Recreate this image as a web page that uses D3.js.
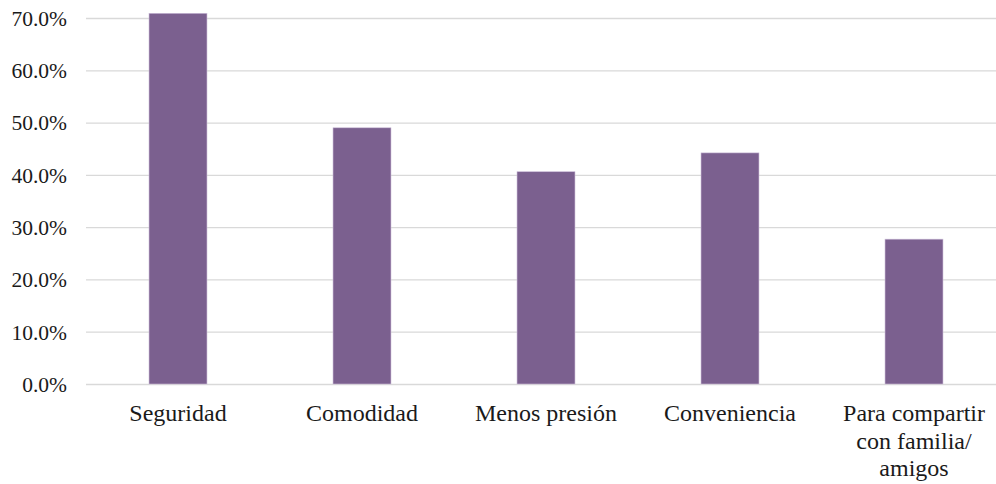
<!DOCTYPE html>
<html>
<head>
<meta charset="utf-8">
<script src="https://cdn.jsdelivr.net/npm/d3@7"></script>
<style>
  html, body { margin: 0; padding: 0; background: #ffffff; }
  svg { display: block; }
</style>
</head>
<body>
<svg id="chart" width="996" height="484"></svg>
<script>
const categories = ["Seguridad", "Comodidad", "Menos presión", "Conveniencia", "Para compartir\ncon familia/\namigos"];
const values = [0.709, 0.490, 0.406, 0.442, 0.277];
const yTicks = [0, 0.1, 0.2, 0.3, 0.4, 0.5, 0.6, 0.7];

const svg = d3.select("#chart");
const plotLeft = 86, plotRight = 1006, plotTop = 18, plotBottom = 384;
const serif = '"Liberation Serif", serif';

const x = d3.scaleBand().domain(categories).range([plotLeft, plotRight])
  .paddingInner(0.685).paddingOuter(0.3425);
const y = d3.scaleLinear().domain([0, 0.7]).range([plotBottom, plotTop]);

const yAxis = d3.axisLeft(y).tickValues(yTicks).tickFormat(d3.format(".1%"))
  .tickSizeInner(-(plotRight - plotLeft)).tickSizeOuter(0).tickPadding(19);

const gy = svg.append("g").attr("transform", `translate(${plotLeft},0)`).call(yAxis);
gy.attr("font-family", serif);
gy.select(".domain").remove();
gy.selectAll(".tick line").attr("stroke", "#d9d9d9").attr("stroke-width", 1.3);
gy.selectAll(".tick text")
  .attr("font-family", serif)
  .attr("font-size", "21.5px").attr("fill", "#1a1a1a").attr("dy", "0.34em");

svg.append("g").selectAll("rect").data(categories).join("rect")
  .attr("x", d => x(d))
  .attr("width", x.bandwidth())
  .attr("y", (d, i) => y(values[i]))
  .attr("height", (d, i) => y(0) - y(values[i]))
  .attr("fill", "#7b608f")
  .attr("stroke", "#cbbdd8").attr("stroke-width", 0.6);

const lab = svg.append("g").selectAll("text").data(categories).join("text")
  .attr("text-anchor", "middle")
  .attr("font-family", serif)
  .attr("font-size", "24px").attr("fill", "#1a1a1a")
  .attr("transform", d => `translate(${x(d) + x.bandwidth() / 2},421)`);
lab.each(function(d) {
  const t = d3.select(this);
  d.split("\n").forEach((line, i) => {
    t.append("tspan").attr("x", 0).attr("y", i * 27.5).text(line);
  });
});
</script>
</body>
</html>
